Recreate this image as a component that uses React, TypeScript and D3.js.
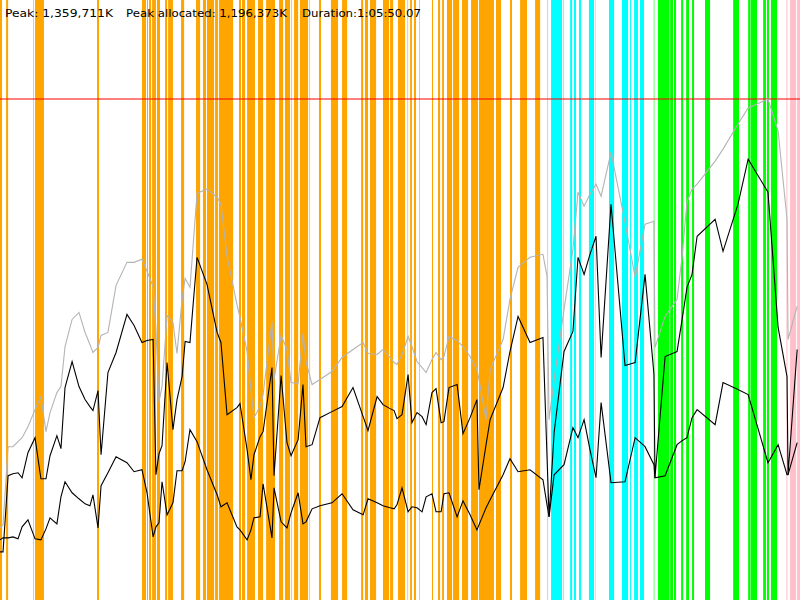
import * as D3 from 'd3'
import { useEffect, useRef } from 'react'

// run summary (K)
const PEAK_K = 1359711
const PEAK_ALLOCATED_K = 1196373
const DURATION_S = 3950.07
const SUMMARY = [
  `Peak: ${D3.format(',')(PEAK_K)}K`,
  `Peak allocated: ${D3.format(',')(PEAK_ALLOCATED_K)}K`,
  'Duration:1:05:50.07',
]

// sample times, seconds since start
const TIMES = [
  0, 15, 40, 64, 89, 109, 138, 173, 202, 227,
  247, 281, 301, 321, 356, 390, 420, 444, 459, 484,
  499, 533, 573, 627, 662, 701, 726, 756, 770, 785,
  800, 825, 854, 874, 899, 914, 938, 973, 1022, 1072,
  1091, 1121, 1170, 1185, 1220, 1239, 1254, 1284, 1299, 1343,
  1353, 1388, 1417, 1437, 1472, 1496, 1511, 1541, 1580, 1639,
  1689, 1743, 1793, 1817, 1862, 1891, 1926, 1946, 1960, 1985,
  2015, 2034, 2059, 2084, 2104, 2133, 2153, 2178, 2192, 2217,
  2257, 2286, 2321, 2355, 2365, 2400, 2420, 2484, 2518, 2558,
  2617, 2681, 2701, 2711, 2736, 2785, 2829, 2854, 2884, 2913,
  2943, 2968, 3017, 3086, 3136, 3185, 3229, 3234, 3284, 3343,
  3368, 3392, 3417, 3442, 3531, 3570, 3644, 3694, 3792, 3842,
  3886, 3891, 3936,
]

// heap size, % of peak (gray)
const HEAP_PCT = [
  14.4, 15, 30.6, 30.6, 31.6, 32.4, 34.6, 38, 40.6, 33.6,
  37.4, 41.4, 42.6, 50.6, 56, 57.4, 53.4, 51, 49.4, 50.4,
  52.8, 53.4, 62.8, 67.4, 67.4, 68, 65.6, 62.6, 54, 39.6,
  42.6, 56.8, 55.4, 49.2, 60, 64.2, 62.4, 81.2, 82, 80.4,
  79, 68.6, 59, 56.4, 49.6, 42, 36.4, 38.6, 41, 55.6,
  44, 52.8, 50, 43.4, 43.2, 53.2, 47.6, 43, 44, 45.6,
  48.4, 50, 51.4, 49.2, 49, 50, 48.4, 47.4, 47, 49,
  52.6, 50.6, 47.6, 46.4, 45.4, 48, 49.4, 48, 48.6, 52.6,
  51.8, 50.6, 48.6, 46, 44, 36, 46, 52, 60, 66.4,
  68.4, 69, 64.6, 36, 44, 58, 70, 81.4, 78.6, 81,
  83, 80.6, 89.4, 75.4, 64.4, 75, 75.6, 50.4, 56.6, 60,
  68.6, 79.4, 82, 83, 87.6, 90, 95, 98.2, 100, 93.6,
  76, 52, 58.6,
]

// allocated, % of peak (upper black)
const ALLOCATED_PCT = [
  9.6, 9.6, 24.8, 25.2, 25.4, 24.4, 29.4, 32.4, 24.2, 24.2,
  28.8, 32.8, 30.2, 42.4, 47.6, 42.6, 40, 38.6, 37.8, 41.8,
  29, 45.4, 49.4, 57, 54.8, 51.4, 51.8, 52, 25, 29.2,
  30.8, 47.4, 34, 40, 44.6, 51.6, 51.4, 68.4, 63, 53.4,
  51.4, 37, 38.4, 39.2, 30, 24, 29, 32.6, 33.6, 46.4,
  24.8, 44.8, 31.4, 28.8, 32, 43, 30.6, 31, 36.4, 37.6,
  38.6, 42.4, 36.6, 33.8, 40.6, 39, 38.2, 37.8, 36.2, 37,
  45, 35.4, 37.4, 36.6, 35, 41.4, 42.2, 35.4, 35.6, 42.4,
  43, 33.2, 36.4, 40, 22, 31, 36, 42.4, 49.6, 56.6,
  51.4, 52.4, 28.6, 16.6, 33.4, 49.6, 53.6, 68.4, 65, 69,
  72.6, 48.4, 79, 46.8, 47.4, 65, 45, 24.4, 48.6, 49.6,
  56, 62.4, 65, 72.6, 76, 69.6, 79, 88, 81.4, 54.4,
  44.6, 25, 50,
]

// live after collection, % of peak (lower black)
const LIVE_PCT = [
  12, 12.4, 12.4, 12.6, 12.2, 14.6, 16, 12.2, 12, 14.2,
  16.4, 15.2, 20.6, 23.6, 21.4, 20.2, 19.2, 18.8, 21, 14.4,
  22.8, 25.4, 28.6, 27.4, 25.6, 26, 21.4, 12.6, 14.6, 15.4,
  23.6, 17, 19.4, 25.8, 25.8, 27.6, 34, 31.6, 26, 21,
  18.6, 19.4, 14.6, 14, 12, 14, 16.4, 16.6, 23.2, 12.4,
  22.4, 15.6, 14.4, 17.4, 21.4, 15.2, 15.6, 18.2, 18.8, 19.4,
  21.2, 18, 17, 20.2, 19.4, 18.8, 18.4, 18.2, 19, 22.4,
  17.6, 18.6, 18.4, 17.6, 20.6, 21.2, 17.6, 17.6, 21.2, 21.4,
  16.6, 19.8, 17, 14, 15, 18.4, 20, 25, 28.2, 25.6,
  26, 24, 19, 16.6, 25, 27, 34.4, 32.4, 36, 30,
  24.4, 39.4, 23.4, 23.6, 32.4, 30.6, 27, 24.4, 24.8, 31,
  31.8, 32.4, 36.4, 38, 35, 43.4, 42, 41, 27.4, 31,
  25, 25, 31.4,
]

// event spans [start, end] in seconds
const ORANGE_SPANS = [
  [0, 10], [30, 40], [165, 168], [173, 217], [479, 489], [701, 721], [726, 731],
  [736, 746], [751, 770], [775, 790], [815, 825], [830, 854], [894, 909],
  [968, 988], [1002, 1017], [1022, 1057], [1062, 1076], [1081, 1151],
  [1180, 1190], [1195, 1210], [1220, 1259], [1274, 1299], [1314, 1358],
  [1378, 1398], [1407, 1432], [1439, 1442], [1452, 1472], [1481, 1521],
  [1528, 1531], [1575, 1585], [1634, 1669], [1689, 1714], [1783, 1793],
  [1802, 1817], [1827, 1857], [1891, 1921], [1926, 1941], [1965, 2000],
  [2012, 2015], [2025, 2034], [2044, 2054], [2069, 2072], [2133, 2138],
  [2163, 2173], [2183, 2192], [2207, 2232], [2237, 2267], [2281, 2311],
  [2326, 2360], [2365, 2439], [2449, 2474], [2518, 2528], [2568, 2602],
  [2642, 2667],
]
const CYAN_SPANS = [
  [2703, 2706], [2721, 2775], [2782, 2785], [2815, 2825], [2834, 2844],
  [2859, 2869], [2908, 2933], [2940, 2942], [3007, 3032], [3071, 3101],
  [3111, 3116], [3131, 3150], [3160, 3180],
]
const GREEN_SPANS = [
  [3228, 3231], [3249, 3306], [3309, 3323], [3328, 3338], [3363, 3373],
  [3388, 3402], [3417, 3427], [3481, 3506], [3620, 3649], [3694, 3706],
  [3708, 3738], [3768, 3782], [3787, 3797], [3807, 3837],
]
const PINK_SPANS = [
  [3883, 3888], [3901, 3931], [3936, 3950],
]

export default function MemoryTimeline() {
  const svgRef = useRef<HTMLDivElement>(null)

  useEffect(() => {
    document.body.style.margin = '0'
    const width = 800
    const height = 600

    const x = D3.scaleLinear().domain([0, DURATION_S]).range([0, width])
    const y = D3.scaleLinear().domain([0, 100]).range([height, 99])

    const svg = D3.create('svg')
      .attr('width', width)
      .attr('height', height)
      .attr('viewBox', [0, 0, width, height])
      .attr('style', 'display: block; background: white;')

    const stripes: [number[][], string][] = [
      [ORANGE_SPANS, '#ffa500'],
      [CYAN_SPANS, '#00ffff'],
      [GREEN_SPANS, '#00ff00'],
      [PINK_SPANS, '#ffc0cb'],
    ]
    for (const [spans, color] of stripes) {
      svg
        .append('g')
        .attr('fill', color)
        .selectAll()
        .data(spans)
        .join('rect')
        .attr('x', (d) => x(d[0]))
        .attr('y', 0)
        .attr('width', (d) => x(d[1]) - x(d[0]))
        .attr('height', height)
    }

    /* peak line */
    svg
      .append('line')
      .attr('x1', 0)
      .attr('x2', width)
      .attr('y1', y(100))
      .attr('y2', y(100))
      .attr('stroke', 'red')
      .attr('stroke-opacity', 0.5)
      .attr('stroke-width', 2)

    const series: [number[], string][] = [
      [HEAP_PCT, '#b4b4b4'],
      [ALLOCATED_PCT, 'black'],
      [LIVE_PCT, 'black'],
    ]
    for (const [values, color] of series) {
      const n = Math.min(values.length, TIMES.length)
      const line = D3.line<number>()
        .x((i) => x(TIMES[i]))
        .y((i) => y(values[i]))
      svg
        .append('path')
        .attr('fill', 'none')
        .attr('stroke', color)
        .attr('stroke-width', 1.1)
        .attr('d', line(D3.range(n)))
    }

    /* summary text */
    const textSlots = [
      [5, 108],
      [126, 161],
      [302, 119],
    ]
    svg
      .append('g')
      .attr('font-family', '"DejaVu Sans", sans-serif')
      .attr('font-size', 11)
      .attr('fill', 'black')
      .selectAll()
      .data(SUMMARY)
      .join('text')
      .attr('x', (_, i) => textSlots[i][0])
      .attr('y', 17)
      .attr('textLength', (_, i) => textSlots[i][1])
      .attr('lengthAdjust', 'spacingAndGlyphs')
      .text((d) => d)

    const chartNode = svg.node()
    const holder = svgRef.current
    if (holder && chartNode) {
      holder.innerHTML = ''
      holder.appendChild(chartNode)
    }
    return () => {
      chartNode?.remove()
    }
  }, [])

  return <div ref={svgRef} />
}
